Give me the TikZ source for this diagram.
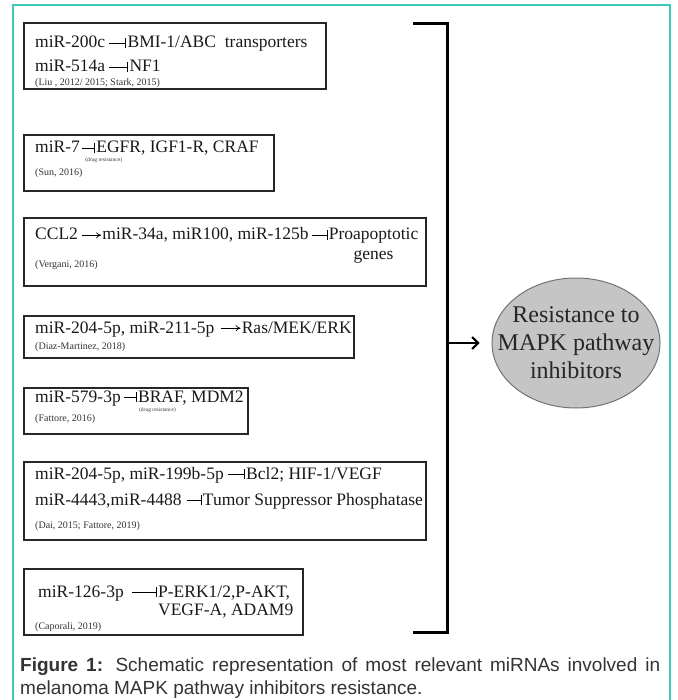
\documentclass[tikz,border=0pt]{standalone}
\usepackage{fontspec}
\setmainfont{Liberation Serif}
\newfontfamily\capfont{Liberation Sans}
\usetikzlibrary{arrows.meta,positioning,shapes.geometric}
\definecolor{frameteal}{RGB}{62,201,181}
\definecolor{ovalgray}{RGB}{197,197,197}
\tikzstyle{box} = [rectangle, draw=black!85, line width=1.6pt, inner sep=0pt, anchor=north west]
\tikzstyle{txt} = [inner sep=0pt, anchor=base west, text=black!90, font=\fontsize{17.5}{20}\selectfont]
\tikzstyle{cite} = [inner sep=0pt, anchor=base west, text=black!80, font=\fontsize{10}{12}\selectfont]
\tikzstyle{note} = [inner sep=0pt, anchor=base west, text=black!80, font=\fontsize{5.5}{7}\selectfont]
\tikzstyle{inh} = [-{Bar[width=10pt]}, line width=0.7pt, shorten <=4pt, shorten >=1.5pt, transform canvas={yshift=2.5pt}]
\tikzstyle{act} = [-{To[length=5pt,width=6pt]}, line width=0.7pt, shorten <=4pt, shorten >=1pt, transform canvas={yshift=2.5pt}]

\begin{document}
\begin{tikzpicture}[x=1pt,y=-1pt]
  \useasboundingbox (0,0) rectangle (677,700);
  \draw[frameteal, line width=1.5pt] (13,5) rectangle (670,720);

  \node[box, minimum width=302pt, minimum height=66pt] (b1) at (23,22) {};
  \node[txt] (m1) at (35,48) {miR-200c};
  \node[txt, base right=22pt of m1] (t1) {BMI-1/ABC\ \ transporters};
  \node[txt] (m2) at (35,72) {miR-514a};
  \node[txt, base right=24pt of m2] (t2) {NF1};
  \node[cite] (c1) at (35,86) {(Liu , 2012/ 2015; Stark, 2015)};
  \draw[inh] (m1.mid east) -- (t1.mid west);
  \draw[inh] (m2.mid east) -- (t2.mid west);

  \node[box, minimum width=250pt, minimum height=56pt] (b2) at (23,134) {};
  \node[txt] (m3) at (35,153) {miR-7};
  \node[txt, base right=16pt of m3] (t3) {EGFR, IGF1-R, CRAF};
  \node[note] (d3) at ([xshift=-11pt,yshift=-9pt]t3.base west) {(drug resistance)};
  \node[cite] (c2) at (35,176) {(Sun, 2016)};
  \draw[inh, shorten <=2pt] (m3.mid east) -- (t3.mid west);

  \node[box, minimum width=402pt, minimum height=68pt] (b3) at (23,217) {};
  \node[txt] (s4) at (35,240) {CCL2};
  \node[txt, base right=24pt of s4] (m4) {miR-34a, miR100, miR-125b};
  \node[txt, base right=20pt of m4] (t4) {Proapoptotic};
  \node[txt, anchor=base] (g4) at ([yshift=-19pt]t4.base) {genes};
  \node[cite] (c3) at (35,267) {(Vergani, 2016)};
  \draw[act] (s4.mid east) -- (m4.mid west);
  \draw[inh, shorten <=3pt] (m4.mid east) -- (t4.mid west);

  \node[box, minimum width=330pt, minimum height=42pt] (b4) at (23,315) {};
  \node[txt] (m5) at (35,333) {miR-204-5p, miR-211-5p};
  \node[txt, base right=27pt of m5] (t5) {Ras/MEK/ERK};
  \node[cite] (c4) at (35,349) {(Diaz-Martinez, 2018)};
  \draw[act, shorten <=6pt] (m5.mid east) -- (t5.mid west);

  \node[box, minimum width=224pt, minimum height=46pt] (b5) at (23,387) {};
  \node[txt] (m6) at (35,402) {miR-579-3p};
  \node[txt, base right=17pt of m6] (t6) {BRAF, MDM2};
  \node[note] (d6) at ([xshift=1pt,yshift=-9pt]t6.base west) {(drug resistance)};
  \node[cite] (c5) at (35,421) {(Fattore, 2016)};
  \draw[inh, shorten <=3pt] (m6.mid east) -- (t6.mid west);

  \node[box, minimum width=402pt, minimum height=78pt] (b6) at (23,461) {};
  \node[txt] (m7) at (35,479) {miR-204-5p, miR-199b-5p};
  \node[txt, base right=22pt of m7] (t7) {Bcl2; HIF-1/VEGF};
  \node[txt] (m8) at (35,505) {miR-4443,miR-4488};
  \node[txt, base right=21pt of m8] (t8) {Tumor Suppressor Phosphatase};
  \node[cite] (c6) at (35,528) {(Dai, 2015; Fattore, 2019)};
  \draw[inh] (m7.mid east) -- (t7.mid west);
  \draw[inh, shorten <=5pt] (m8.mid east) -- (t8.mid west);

  \node[box, minimum width=279pt, minimum height=66pt] (b7) at (23,568) {};
  \node[txt] (m9) at (38,597) {miR-126-3p};
  \node[txt, base right=34pt of m9] (t9) {P-ERK1/2,P-AKT,};
  \node[txt, anchor=base west] (u9) at ([yshift=-18pt]t9.base west) {VEGF-A, ADAM9};
  \node[cite] (c7) at (35,629) {(Caporali, 2019)};
  \draw[inh, shorten <=8pt] (m9.mid east) -- (t9.mid west);

  \coordinate (kt) at (413,24);
  \coordinate (kb) at (413,632);
  \coordinate (km) at (447,343);
  \draw[line width=3pt] (kt) -- ++(34,0) |- (kb);
  \node[ellipse, fill=ovalgray, draw=black!55, line width=1pt, minimum width=168pt, minimum height=130pt,
        inner xsep=-21pt, inner ysep=0pt, align=center, text=black!85, font=\fontsize{24}{28}\selectfont] (res) at (576,343)
        {Resistance to\\MAPK pathway\\inhibitors};
  \draw[-{Straight Barb[length=6pt,width=12pt]}, line width=2pt, shorten >=12pt] (km) -- (res);

  \node[anchor=north west, text width=640pt, align=justify, inner sep=0pt, text=black!80,
        font=\capfont\fontsize{19}{23}\selectfont] (cap) at (20,658)
        {\hyphenpenalty=10000 \tolerance=10000 \textbf{Figure 1:} Schematic representation of most relevant miRNAs involved in melanoma MAPK pathway inhibitors resistance.};
\end{tikzpicture}
\end{document}
